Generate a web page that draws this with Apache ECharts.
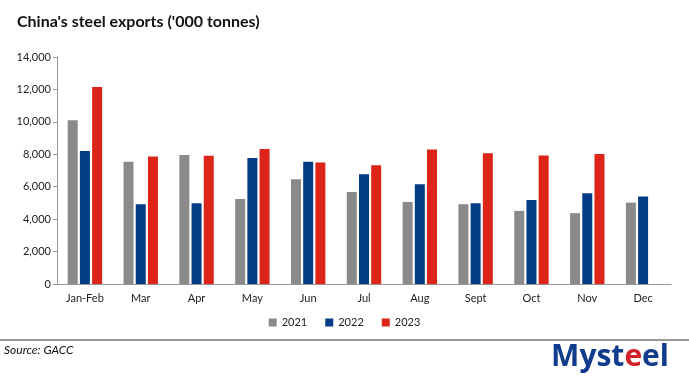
<!DOCTYPE html>
<html><head><meta charset="utf-8">
<script src="https://cdn.jsdelivr.net/npm/echarts@6/dist/echarts.min.js"></script>
<style>html,body{margin:0;padding:0;background:#fff}#c{width:689px;height:391px}</style>
</head><body><div id="c"></div>
<script>
const categories = ['Jan-Feb','Mar','Apr','May','Jun','Jul','Aug','Sept','Oct','Nov','Dec'];
const s2021 = [10100, 7540, 7950, 5250, 6460, 5680, 5060, 4920, 4510, 4370, 5020];
const s2022 = [8200, 4920, 4980, 7770, 7540, 6770, 6150, 4980, 5180, 5600, 5390];
const s2023 = [12150, 7870, 7910, 8320, 7500, 7320, 8300, 8060, 7930, 8010, null];
const seriesNames = ['2021','2022','2023'];
const colors = ['#8a8a8a','#033b85','#dc2418'];

const chart = echarts.init(document.getElementById('c'), null, {renderer:'canvas'});
const font = 'Lato, "Open Sans", sans-serif';
const mk = (name, data, i) => ({
  name, type:'bar', data, barWidth:10, barGap:'22%',
  itemStyle:{color:colors[i]}
});
chart.setOption({
  animation:false,
  textStyle:{fontFamily:font},
  title:{text:"China's steel exports ('000 tonnes)", left:12, top:9,
    textStyle:{fontFamily:font, fontSize:16, fontWeight:'bold', color:'#111'}},
  legend:{data:seriesNames, top:312, left:'center', itemWidth:8, itemHeight:8, itemGap:18,
    icon:'rect', textStyle:{fontFamily:font, fontSize:11, color:'#222'}},
  grid:{left:57, right:18, top:57, bottom:107, containLabel:false},
  xAxis:{type:'category', data:categories,
    axisLine:{lineStyle:{color:'#999', width:1}}, axisTick:{show:false},
    axisLabel:{color:'#222', fontSize:11, margin:9, fontFamily:font}},
  yAxis:{type:'value', min:0, max:14000, interval:2000,
    axisLine:{show:true, lineStyle:{color:'#999'}},
    axisTick:{show:true, length:4, lineStyle:{color:'#999'}},
    splitLine:{show:false},
    axisLabel:{color:'#222', fontSize:11, margin:6, fontFamily:font,
      formatter:v=>v.toLocaleString('en-US')}},
  graphic:[
    {type:'rect', shape:{x:0,y:339,width:689,height:2}, style:{fill:'#9a9a9a'}},
    {type:'text', left:4, top:344, style:{text:'Source: GACC', font:'italic 12px '+font, fill:'#111'}},
    {type:'text', right:20, top:342, style:{
      text:'{b|Myst}{r|e}{b|el}',
      rich:{b:{fill:'#0f3c8c', font:'bold 30px "Open Sans", sans-serif'},
            r:{fill:'#d32027', font:'bold 30px "Open Sans", sans-serif'}}}}
  ],
  series:[mk('2021',s2021,0), mk('2022',s2022,1), mk('2023',s2023,2)]
});
</script></body></html>
